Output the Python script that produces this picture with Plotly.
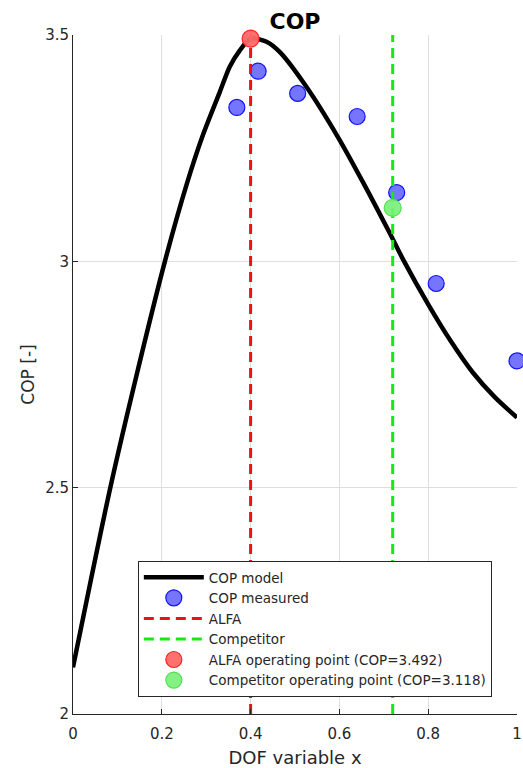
import plotly.graph_objects as go

# COP model curve
model_x = [0.0, 0.084, 0.146, 0.207, 0.256, 0.293, 0.331, 0.353, 0.375, 0.4,
           0.436, 0.466, 0.526, 0.597, 0.653, 0.713, 0.743, 0.8, 0.85, 0.9, 0.95, 1.0]
model_y = [2.103, 2.5, 2.76, 3.0, 3.17, 3.28, 3.375, 3.43, 3.465, 3.492,
           3.485, 3.462, 3.385, 3.274, 3.175, 3.063, 3.005, 2.905, 2.825, 2.755, 2.70, 2.655]

# Measured COP
meas_x = [0.369, 0.417, 0.506, 0.640, 0.729, 0.818, 1.0]
meas_y = [3.340, 3.420, 3.371, 3.320, 3.152, 2.951, 2.780]

# Operating points
alfa_x, alfa_cop = 0.4, 3.492
comp_x, comp_cop = 0.72, 3.118

y_range = [2, 3.5]
x_ticks = [0, 0.2, 0.4, 0.6, 0.8, 1]
x_tick_text = ["0", "0.2", "0.4", "0.6", "0.8", "1"]
y_ticks = [2, 2.5, 3, 3.5]
y_tick_text = ["2", "2.5", "3", "3.5"]

FONT = "DejaVu Sans, Liberation Sans, Arial, sans-serif"
AX = "#262626"

fig = go.Figure()

fig.add_trace(go.Scatter(
    x=model_x, y=model_y, mode="lines", name="COP model",
    line=dict(color="black", width=4.5, shape="spline", smoothing=0.8),
))
fig.add_trace(go.Scatter(
    x=meas_x, y=meas_y, mode="markers", name="COP measured",
    marker=dict(size=16, color="rgba(105,105,255,0.92)",
                line=dict(color="#1010ff", width=1.2)),
    cliponaxis=False,
))
fig.add_trace(go.Scatter(
    x=[alfa_x, alfa_x], y=y_range, mode="lines", name="ALFA",
    line=dict(color="#e81414", width=3, dash="10px,6px"),
))
fig.add_trace(go.Scatter(
    x=[comp_x, comp_x], y=y_range, mode="lines", name="Competitor",
    line=dict(color="#14ea14", width=3, dash="10px,6px"),
))
fig.add_trace(go.Scatter(
    x=[alfa_x], y=[alfa_cop], mode="markers",
    name=f"ALFA operating point (COP={alfa_cop:.3f})",
    marker=dict(size=17, color="rgba(255,105,105,0.95)",
                line=dict(color="#ff2020", width=1.2)),
    cliponaxis=False,
))
fig.add_trace(go.Scatter(
    x=[comp_x], y=[comp_cop], mode="markers",
    name=f"Competitor operating point (COP={comp_cop:.3f})",
    marker=dict(size=17, color="rgba(120,240,120,0.9)",
                line=dict(color="#50e050", width=1.2)),
    cliponaxis=False,
))

fig.update_layout(
    width=523, height=768,
    margin=dict(l=73, r=6, t=35, b=54, autoexpand=False),
    paper_bgcolor="white", plot_bgcolor="white",
    font=dict(family=FONT, color=AX, size=15),
    title=dict(text="<b>COP</b>", x=0.5, xref="paper", xanchor="center",
               y=1, yref="paper", yanchor="bottom", pad=dict(b=6),
               font=dict(size=22, color="black", family=FONT)),
    showlegend=True,
    legend=dict(
        x=0.146, y=0.025, xanchor="left", yanchor="bottom",
        bgcolor="white", bordercolor="#262626", borderwidth=1,
        font=dict(size=13.5, color="#262626", family=FONT),
        itemwidth=60, tracegroupgap=0,
    ),
    xaxis=dict(
        range=[0, 1], tickvals=x_ticks, ticktext=x_tick_text, automargin=False,
        showgrid=True, gridcolor="#dedede", gridwidth=1,
        zeroline=False, showline=True, linecolor=AX, linewidth=1,
        ticks="inside", ticklen=5, tickcolor=AX, ticklabelstandoff=6,
        title=dict(text="DOF variable x", font=dict(size=18, color=AX), standoff=10),
        tickfont=dict(size=15, color=AX),
    ),
    yaxis=dict(
        range=y_range, tickvals=y_ticks, ticktext=y_tick_text, automargin=False,
        showgrid=True, gridcolor="#dedede", gridwidth=1,
        zeroline=False, showline=True, linecolor=AX, linewidth=1,
        ticks="inside", ticklen=5, tickcolor=AX,
        title=dict(text="COP [-]", font=dict(size=17, color=AX), standoff=6),
        tickfont=dict(size=15, color=AX),
    ),
)

fig.write_html("out.html")
